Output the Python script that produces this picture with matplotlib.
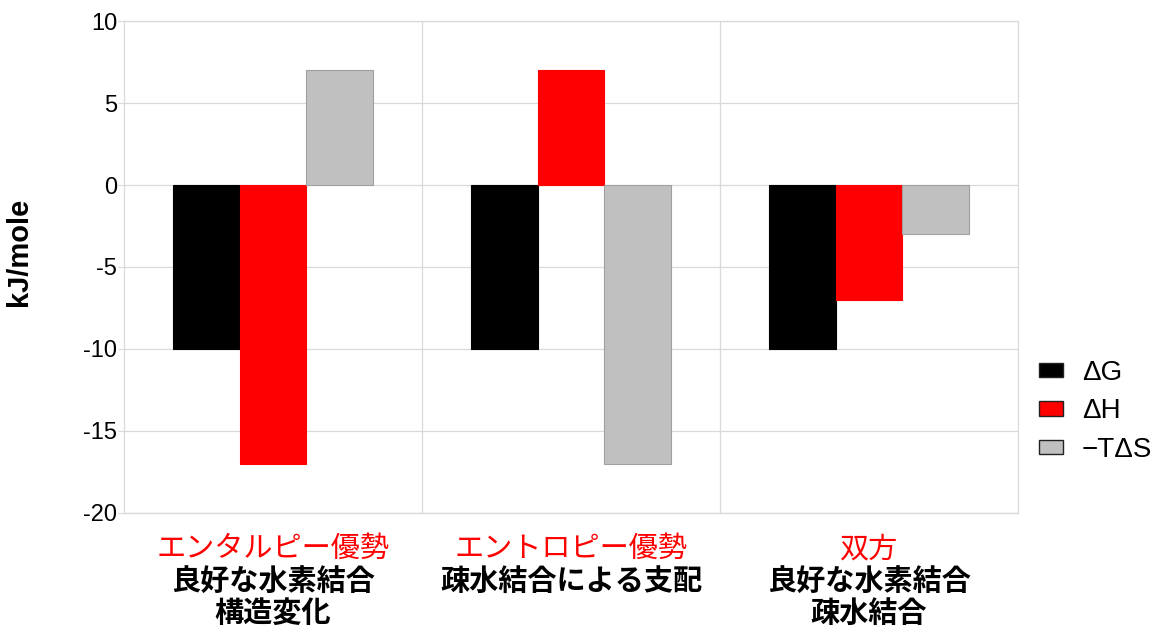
import numpy as np
import matplotlib.pyplot as plt
from matplotlib.patches import Patch

plt.rcParams['font.family'] = ['Liberation Sans', 'Noto Sans CJK JP', 'DejaVu Sans']
plt.rcParams['axes.unicode_minus'] = False

# thermodynamic signature of each binding mode (kJ/mole)
series = ["ΔG", "ΔH", "\u2212TΔS"]
dG = [-10, -10, -10]
dH = [-17, 7, -7]
mTdS = [7, -17, -3]

modes = ["エンタルピー優勢", "エントロピー優勢", "双方"]
details = [["良好な水素結合", "構造変化"],
           ["疎水結合による支配"],
           ["良好な水素結合", "疎水結合"]]

colors = ["#000000", "#ff0000", "#c0c0c0"]
edges = ["#000000", "#ff0000", "#a0a0a0"]
grid_c = "#d9d9d9"

fig = plt.figure(figsize=(11.66, 6.33), dpi=100)
ax = fig.add_axes([0.1063, 0.1896, 0.7667, 0.7772])

x = np.arange(len(modes))
w = 0.224
for k, vals in enumerate([dG, dH, mTdS]):
    ax.bar(x + (k - 1) * w, vals, width=w, color=colors[k],
           edgecolor=edges[k], linewidth=0.8, zorder=3)

ax.set_xlim(-0.5, 2.5)
ax.set_ylim(-20, 10)
ax.set_yticks(np.arange(-20, 11, 5))
ax.set_xticks([])
ax.set_xticks([0.5, 1.5], minor=True)
ax.grid(True, which='major', axis='y', color=grid_c, linewidth=0.9, zorder=0)
ax.grid(True, which='minor', axis='x', color=grid_c, linewidth=0.9, zorder=0)
ax.tick_params(axis='y', length=4, color=grid_c, labelsize=17, pad=1)
ax.tick_params(axis='x', which='minor', length=0)
for s in ax.spines.values():
    s.set_color(grid_c)
    s.set_linewidth(0.9)

ax.set_ylabel("kJ/mole", fontsize=21, fontweight='bold')
ax.yaxis.set_label_coords(-0.102, 0.53)

# category captions under each group
trans = ax.get_xaxis_transform()
for i in range(len(modes)):
    ax.text(x[i], -0.0732, modes[i], transform=trans, ha='center', va='center',
            fontsize=21, color='#ff0000')
    for j, line in enumerate(details[i]):
        ax.text(x[i], -0.140 - j * 0.065, line, transform=trans, ha='center',
                va='center', fontsize=21, fontweight='bold', color='black')

handles = [Patch(facecolor=colors[k], edgecolor='#222222', linewidth=1.0, label=series[k])
           for k in range(3)]
fig.legend(handles=handles, loc='upper left', bbox_to_anchor=(1025 / 1166, 1 - 346 / 633),
           frameon=False, borderpad=0, fontsize=20, handlelength=0.85, handleheight=0.42,
           labelspacing=0.45, handletextpad=0.7)

fig.savefig("out.png", dpi=100)
